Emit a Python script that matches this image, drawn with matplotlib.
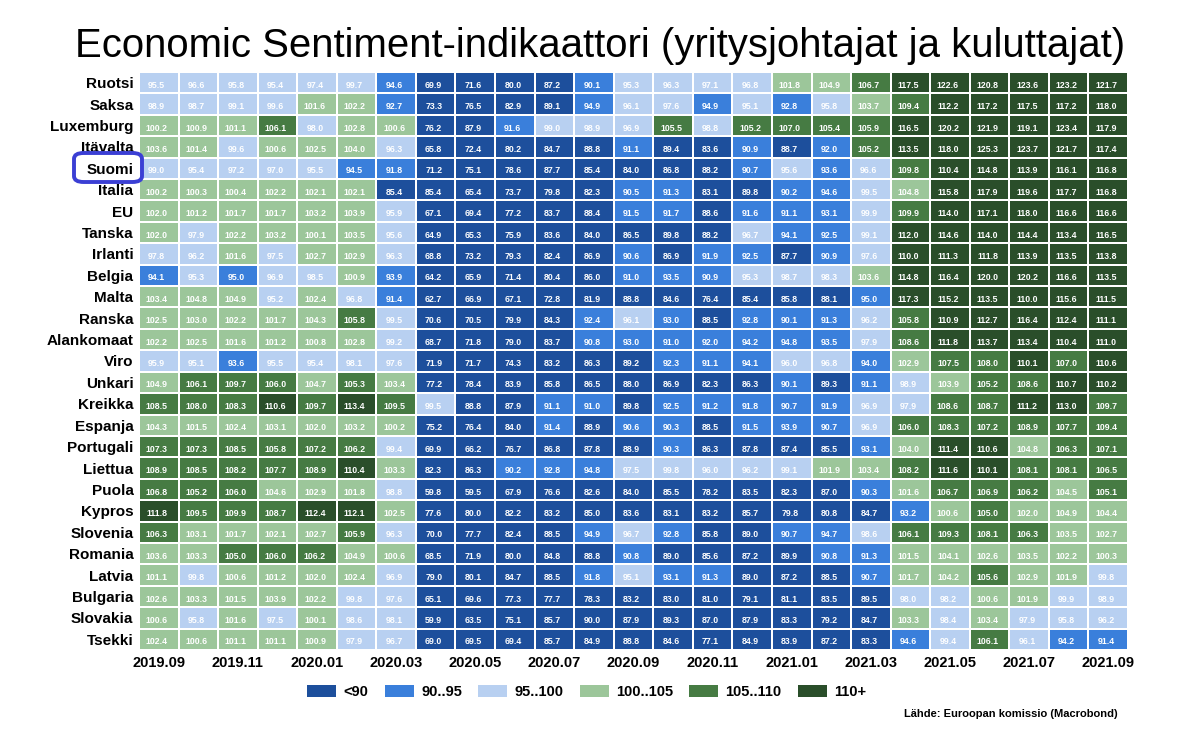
import numpy as np
import matplotlib
matplotlib.use("Agg")
import matplotlib.pyplot as plt
from matplotlib.colors import ListedColormap, BoundaryNorm
from matplotlib.patches import Patch, FancyBboxPatch

plt.rcParams['font.family'] = ['Liberation Sans', 'DejaVu Sans']

countries = ["Ruotsi", "Saksa", "Luxemburg", "Itävalta", "Suomi", "Italia", "EU", "Tanska",
             "Irlanti", "Belgia", "Malta", "Ranska", "Alankomaat", "Viro", "Unkari", "Kreikka",
             "Espanja", "Portugali", "Liettua", "Puola", "Kypros", "Slovenia", "Romania",
             "Latvia", "Bulgaria", "Slovakia", "Tsekki"]

months = ["2019.09", "2019.10", "2019.11", "2019.12", "2020.01", "2020.02", "2020.03", "2020.04",
          "2020.05", "2020.06", "2020.07", "2020.08", "2020.09", "2020.10", "2020.11", "2020.12",
          "2021.01", "2021.02", "2021.03", "2021.04", "2021.05", "2021.06", "2021.07", "2021.08",
          "2021.09"]

ruotsi = [95.5, 96.6, 95.8, 95.4, 97.4, 99.7, 94.6, 69.9, 71.6, 80.0, 87.2, 90.1, 95.3, 96.3, 97.1, 96.8, 101.8, 104.9, 106.7, 117.5, 122.6, 120.8, 123.6, 123.2, 121.7]
saksa = [98.9, 98.7, 99.1, 99.6, 101.6, 102.2, 92.7, 73.3, 76.5, 82.9, 89.1, 94.9, 96.1, 97.6, 94.9, 95.1, 92.8, 95.8, 103.7, 109.4, 112.2, 117.2, 117.5, 117.2, 118.0]
luxemburg = [100.2, 100.9, 101.1, 106.1, 98.0, 102.8, 100.6, 76.2, 87.9, 91.6, 99.0, 98.9, 96.9, 105.5, 98.8, 105.2, 107.0, 105.4, 105.9, 116.5, 120.2, 121.9, 119.1, 123.4, 117.9]
itavalta = [103.6, 101.4, 99.6, 100.6, 102.5, 104.0, 96.3, 65.8, 72.4, 80.2, 84.7, 88.8, 91.1, 89.4, 83.6, 90.9, 88.7, 92.0, 105.2, 113.5, 118.0, 125.3, 123.7, 121.7, 117.4]
suomi = [99.0, 95.4, 97.2, 97.0, 95.5, 94.5, 91.8, 71.2, 75.1, 78.6, 87.7, 85.4, 84.0, 86.8, 88.2, 90.7, 95.6, 93.6, 96.6, 109.8, 110.4, 114.8, 113.9, 116.1, 116.8]
italia = [100.2, 100.3, 100.4, 102.2, 102.1, 102.1, 85.4, 85.4, 65.4, 73.7, 79.8, 82.3, 90.5, 91.3, 83.1, 89.8, 90.2, 94.6, 99.5, 104.8, 115.8, 117.9, 119.6, 117.7, 116.8]
eu = [102.0, 101.2, 101.7, 101.7, 103.2, 103.9, 95.9, 67.1, 69.4, 77.2, 83.7, 88.4, 91.5, 91.7, 88.6, 91.6, 91.1, 93.1, 99.9, 109.9, 114.0, 117.1, 118.0, 116.6, 116.6]
tanska = [102.0, 97.9, 102.2, 103.2, 100.1, 103.5, 95.6, 64.9, 65.3, 75.9, 83.6, 84.0, 86.5, 89.8, 88.2, 96.7, 94.1, 92.5, 99.1, 112.0, 114.6, 114.0, 114.4, 113.4, 116.5]
irlanti = [97.8, 96.2, 101.6, 97.5, 102.7, 102.9, 96.3, 68.8, 73.2, 79.3, 82.4, 86.9, 90.6, 86.9, 91.9, 92.5, 87.7, 90.9, 97.6, 110.0, 111.3, 111.8, 113.9, 113.5, 113.8]
belgia = [94.1, 95.3, 95.0, 96.9, 98.5, 100.9, 93.9, 64.2, 65.9, 71.4, 80.4, 86.0, 91.0, 93.5, 90.9, 95.3, 98.7, 98.3, 103.6, 114.8, 116.4, 120.0, 120.2, 116.6, 113.5]
malta = [103.4, 104.8, 104.9, 95.2, 102.4, 96.8, 91.4, 62.7, 66.9, 67.1, 72.8, 81.9, 88.8, 84.6, 76.4, 85.4, 85.8, 88.1, 95.0, 117.3, 115.2, 113.5, 110.0, 115.6, 111.5]
ranska = [102.5, 103.0, 102.2, 101.7, 104.3, 105.8, 99.5, 70.6, 70.5, 79.9, 84.3, 92.4, 96.1, 93.0, 88.5, 92.8, 90.1, 91.3, 96.2, 105.8, 110.9, 112.7, 116.4, 112.4, 111.1]
alankomaat = [102.2, 102.5, 101.6, 101.2, 100.8, 102.8, 99.2, 68.7, 71.8, 79.0, 83.7, 90.8, 93.0, 91.0, 92.0, 94.2, 94.8, 93.5, 97.9, 108.6, 111.8, 113.7, 113.4, 110.4, 111.0]
viro = [95.9, 95.1, 93.6, 95.5, 95.4, 98.1, 97.6, 71.9, 71.7, 74.3, 83.2, 86.3, 89.2, 92.3, 91.1, 94.1, 96.0, 96.8, 94.0, 102.9, 107.5, 108.0, 110.1, 107.0, 110.6]
unkari = [104.9, 106.1, 109.7, 106.0, 104.7, 105.3, 103.4, 77.2, 78.4, 83.9, 85.8, 86.5, 88.0, 86.9, 82.3, 86.3, 90.1, 89.3, 91.1, 98.9, 103.9, 105.2, 108.6, 110.7, 110.2]
kreikka = [108.5, 108.0, 108.3, 110.6, 109.7, 113.4, 109.5, 99.5, 88.8, 87.9, 91.1, 91.0, 89.8, 92.5, 91.2, 91.8, 90.7, 91.9, 96.9, 97.9, 108.6, 108.7, 111.2, 113.0, 109.7]
espanja = [104.3, 101.5, 102.4, 103.1, 102.0, 103.2, 100.2, 75.2, 76.4, 84.0, 91.4, 88.9, 90.6, 90.3, 88.5, 91.5, 93.9, 90.7, 96.9, 106.0, 108.3, 107.2, 108.9, 107.7, 109.4]
portugali = [107.3, 107.3, 108.5, 105.8, 107.2, 106.2, 99.4, 69.9, 66.2, 76.7, 86.8, 87.8, 88.9, 90.3, 86.3, 87.8, 87.4, 85.5, 93.1, 104.0, 111.4, 110.6, 104.8, 106.3, 107.1]
liettua = [108.9, 108.5, 108.2, 107.7, 108.9, 110.4, 103.3, 82.3, 86.3, 90.2, 92.8, 94.8, 97.5, 99.8, 96.0, 96.2, 99.1, 101.9, 103.4, 108.2, 111.6, 110.1, 108.1, 108.1, 106.5]
puola = [106.8, 105.2, 106.0, 104.6, 102.9, 101.8, 98.8, 59.8, 59.5, 67.9, 76.6, 82.6, 84.0, 85.5, 78.2, 83.5, 82.3, 87.0, 90.3, 101.6, 106.7, 106.9, 106.2, 104.5, 105.1]
kypros = [111.8, 109.5, 109.9, 108.7, 112.4, 112.1, 102.5, 77.6, 80.0, 82.2, 83.2, 85.0, 83.6, 83.1, 83.2, 85.7, 79.8, 80.8, 84.7, 93.2, 100.6, 105.0, 102.0, 104.9, 104.4]
slovenia = [106.3, 103.1, 101.7, 102.1, 102.7, 105.9, 96.3, 70.0, 77.7, 82.4, 88.5, 94.9, 96.7, 92.8, 85.8, 89.0, 90.7, 94.7, 98.6, 106.1, 109.3, 108.1, 106.3, 103.5, 102.7]
romania = [103.6, 103.3, 105.0, 106.0, 106.2, 104.9, 100.6, 68.5, 71.9, 80.0, 84.8, 88.8, 90.8, 89.0, 85.6, 87.2, 89.9, 90.8, 91.3, 101.5, 104.1, 102.6, 103.5, 102.2, 100.3]
latvia = [101.1, 99.8, 100.6, 101.2, 102.0, 102.4, 96.9, 79.0, 80.1, 84.7, 88.5, 91.8, 95.1, 93.1, 91.3, 89.0, 87.2, 88.5, 90.7, 101.7, 104.2, 105.6, 102.9, 101.9, 99.8]
bulgaria = [102.6, 103.3, 101.5, 103.9, 102.2, 99.8, 97.6, 65.1, 69.6, 77.3, 77.7, 78.3, 83.2, 83.0, 81.0, 79.1, 81.1, 83.5, 89.5, 98.0, 98.2, 100.6, 101.9, 99.9, 98.9]
slovakia = [100.6, 95.8, 101.6, 97.5, 100.1, 98.6, 98.1, 59.9, 63.5, 75.1, 85.7, 90.0, 87.9, 89.3, 87.0, 87.9, 83.3, 79.2, 84.7, 103.3, 98.4, 103.4, 97.9, 95.8, 96.2]
tsekki = [102.4, 100.6, 101.1, 101.1, 100.9, 97.9, 96.7, 69.0, 69.5, 69.4, 85.7, 84.9, 88.8, 84.6, 77.1, 84.9, 83.9, 87.2, 83.3, 94.6, 99.4, 106.1, 96.1, 94.2, 91.4]

rows = [ruotsi, saksa, luxemburg, itavalta, suomi, italia, eu, tanska, irlanti, belgia, malta,
        ranska, alankomaat, viro, unkari, kreikka, espanja, portugali, liettua, puola, kypros,
        slovenia, romania, latvia, bulgaria, slovakia, tsekki]

legend_labels = ["<90", "90..95", "95..100", "100..105", "105..110", "110+"]
colors = ["#1d4f9c", "#3a7fdb", "#b8d0f1", "#9cc69a", "#467b43", "#2a4e2a"]

data = np.array(rows)

def category(v):
    if v < 100:
        if v <= 90:
            return 0
        if v <= 95:
            return 1
        return 2
    if v < 105:
        return 3
    if v < 110:
        return 4
    return 5

cats = np.vectorize(category)(data)

fig = plt.figure(figsize=(12, 7.33), dpi=100)
ax = fig.add_axes([139 / 1200, 1 - 650 / 733, (1128 - 139) / 1200, (650 - 72) / 733])

cmap = ListedColormap(colors)
norm = BoundaryNorm(np.arange(-0.5, 6.5, 1), cmap.N)
nr, nc = data.shape
ax.pcolormesh(np.arange(nc + 1), np.arange(nr + 1), cats, cmap=cmap, norm=norm,
              edgecolors='white', linewidth=1.2)
ax.set_xlim(0, nc)
ax.set_ylim(nr, 0)

for i in range(nr):
    for j in range(nc):
        ax.text(j + 0.45, i + 0.62, f"{data[i, j]:.1f}", ha='center', va='center',
                color='white', fontsize=6.3, fontweight='bold')

ax.set_yticks(np.arange(nr) + 0.5)
ax.set_yticklabels(countries, fontsize=11, fontweight='bold')
ax.set_xticks(np.arange(0, nc, 2) + 0.5)
ax.set_xticklabels(months[::2], fontsize=10.5, fontweight='bold')
ax.tick_params(length=0, pad=4)
for s in ax.spines.values():
    s.set_visible(False)

fig.text(0.5, 1 - 46 / 733, "Economic Sentiment-indikaattori (yritysjohtajat ja kuluttajat)",
         ha='center', va='center', fontsize=28.9)

handles = [Patch(facecolor=c, edgecolor='none') for c in colors]
leg = fig.legend(handles, legend_labels, loc='center', bbox_to_anchor=(0.489, 1 - 692 / 733),
                 ncol=6, frameon=False, handlelength=2.0, handleheight=0.8, handletextpad=0.5,
                 columnspacing=1.1, prop={'weight': 'bold', 'size': 10.5})

fig.text(1118 / 1200, 1 - 714 / 733, "Lähde: Euroopan komissio (Macrobond)", ha='right',
         va='center', fontsize=8, fontweight='bold')

box = FancyBboxPatch((74 / 1200, 1 - 182 / 733), 68 / 1200, 29 / 733,
                     boxstyle="round,pad=0,rounding_size=0.008", transform=fig.transFigure,
                     fill=False, edgecolor='#3b3fd4', linewidth=2.8)
fig.patches.append(box)

fig.savefig("out.png", dpi=100)
